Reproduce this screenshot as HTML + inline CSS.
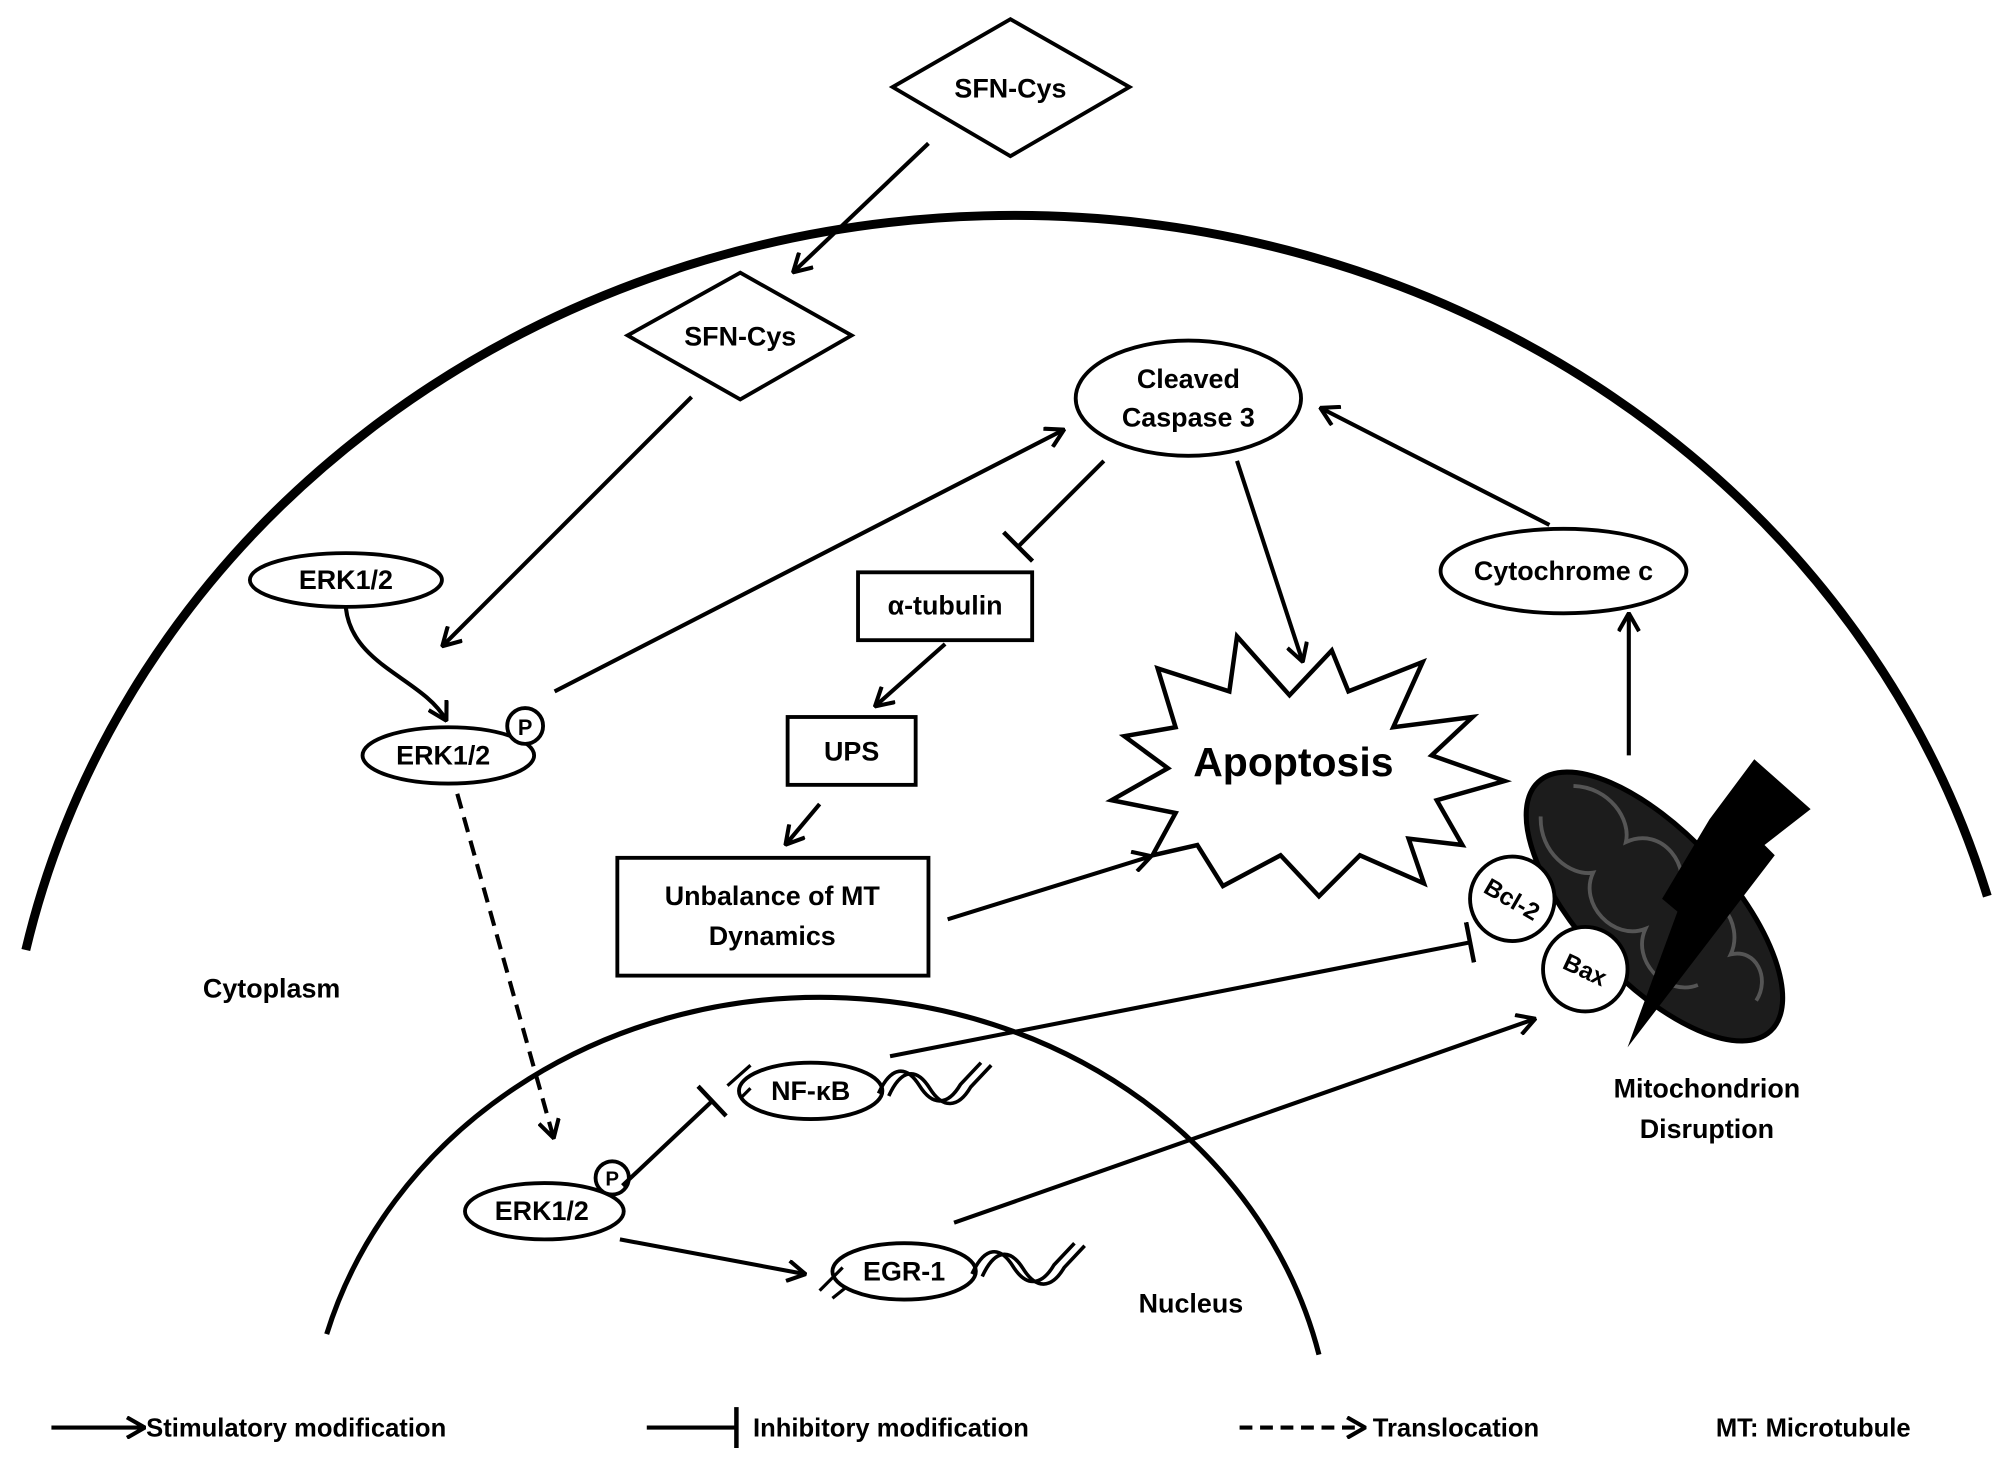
<!DOCTYPE html>
<html><head><meta charset="utf-8"><style>html,body{margin:0;padding:0;background:#fff}svg{display:block}</style></head>
<body>
<svg width="2008" height="1466" viewBox="0 0 1568 1145" xmlns="http://www.w3.org/2000/svg" font-family="Liberation Sans, Arial, sans-serif" font-weight="bold">
<defs>
<marker id="a" markerWidth="16" markerHeight="18" refX="14" refY="9" orient="auto" markerUnits="userSpaceOnUse"><path d="M1,1 L15,9 L1,17" fill="none" stroke="#000" stroke-width="3.2"/></marker>
<marker id="t" markerWidth="6" markerHeight="32" refX="3" refY="16" orient="auto" markerUnits="userSpaceOnUse"><path d="M3,0 L3,32" stroke="#000" stroke-width="3.5"/></marker>
<g id="dna" fill="none" stroke="#000" stroke-width="2.8">
<path d="M0,12 C10,-10 22,-10 32,6 C42,22 54,22 64,5 L80,-12"/>
<path d="M8,14 C18,-8 30,-8 40,8 C50,24 62,24 72,7 L88,-10"/>
</g>
</defs>
<rect width="1568" height="1145" fill="#fff"/>
<path d="M20,742 A790,730 0 0 1 1552,700" fill="none" stroke="#000" stroke-width="7"/>
<path d="M255,1042 A400,360 0 0 1 1030,1058" fill="none" stroke="#000" stroke-width="4"/>

<g stroke="#000" stroke-width="3" fill="#fff">
<polygon points="789,15 882,68 789,122 697,68"/>
<polygon points="578,213 665,262 578,312 490,262"/>
<ellipse cx="270" cy="453" rx="75" ry="21"/>
<ellipse cx="350" cy="590" rx="67" ry="22"/>
<circle cx="410" cy="567" r="14"/>
<ellipse cx="928" cy="311" rx="88" ry="45"/>
<rect x="670" y="447" width="136" height="53"/>
<rect x="615" y="560" width="100" height="53"/>
<rect x="482" y="670" width="243" height="92"/>
<ellipse cx="1221" cy="446" rx="96" ry="33"/>
<ellipse cx="425" cy="946" rx="62" ry="22"/>
<circle cx="478" cy="920" r="13"/>
<ellipse cx="633" cy="852" rx="56" ry="22"/>
<ellipse cx="706" cy="993" rx="56" ry="22"/>
</g>
<use href="#dna" x="686" y="842"/>
<use href="#dna" x="759" y="983"/>
<path d="M568,848 L586,832 M578,858 L586,850 M640,1008 L658,990 M650,1014 L660,1006" stroke="#000" stroke-width="2.5"/>

<polygon fill="#fff" stroke="#000" stroke-width="3.5" points="904,522 960,540 966,497 1007,543 1040,508 1053,540 1111,517 1088,568 1150,560 1118,590 1175,610 1122,625 1142,660 1100,655 1112,690 1062,668 1030,700 1000,668 955,692 935,660 900,668 918,635 868,625 912,600 878,575 918,568"/>

<g transform="rotate(47 1292 708)">
<ellipse cx="1292" cy="708" rx="133" ry="58" fill="#1c1c1c" stroke="#000" stroke-width="4"/>
<path d="M1180,690 C1200,670 1230,675 1240,690 C1250,660 1290,665 1300,690 C1310,660 1350,665 1360,690 C1370,672 1395,680 1400,700 M1180,725 C1200,745 1230,740 1240,725 C1250,750 1290,750 1300,725 C1310,750 1350,750 1360,725" fill="none" stroke="#555" stroke-width="3"/>
</g>
<polygon fill="#000" points="1370,593 1414,632 1378,660 1386,668 1271,818 1310,712 1298,702 1335,640"/>
<circle cx="1181" cy="702" r="33" fill="#fff" stroke="#000" stroke-width="3"/>
<circle cx="1238" cy="757" r="33" fill="#fff" stroke="#000" stroke-width="3"/>

<g stroke="#000" stroke-width="3.2" fill="none">
<line x1="725" y1="112" x2="620" y2="212" marker-end="url(#a)"/>
<line x1="540" y1="310" x2="346" y2="504" marker-end="url(#a)"/>
<path d="M270,475 C275,520 330,530 348,562" marker-end="url(#a)"/>
<line x1="433" y1="540" x2="830" y2="336" marker-end="url(#a)"/>
<line x1="862" y1="360" x2="795" y2="427" marker-end="url(#t)"/>
<line x1="738" y1="503" x2="684" y2="551" marker-end="url(#a)"/>
<line x1="640" y1="628" x2="614" y2="659" marker-end="url(#a)"/>
<line x1="740" y1="718" x2="898" y2="669" marker-end="url(#a)"/>
<line x1="966" y1="360" x2="1017" y2="516" marker-end="url(#a)"/>
<line x1="1210" y1="410" x2="1032" y2="319" marker-end="url(#a)"/>
<line x1="1272" y1="590" x2="1272" y2="480" marker-end="url(#a)"/>
<line x1="695" y1="825" x2="1148" y2="736" marker-end="url(#t)"/>
<line x1="745" y1="955" x2="1198" y2="796" marker-end="url(#a)"/>
<line x1="357" y1="620" x2="432" y2="888" stroke-dasharray="12,7" marker-end="url(#a)"/>
<line x1="486" y1="926" x2="556" y2="860" marker-end="url(#t)"/>
<line x1="484" y1="968" x2="628" y2="995" marker-end="url(#a)"/>
<line x1="40" y1="1115" x2="112" y2="1115" marker-end="url(#a)"/>
<line x1="505" y1="1115" x2="575" y2="1115" marker-end="url(#t)"/>
<line x1="968" y1="1115" x2="1065" y2="1115" stroke-dasharray="10,6" marker-end="url(#a)"/>
</g>

<g font-size="21" text-anchor="middle" fill="#000">
<text x="789" y="76">SFN-Cys</text>
<text x="578" y="270">SFN-Cys</text>
<text x="270" y="460">ERK1/2</text>
<text x="346" y="597">ERK1/2</text>
<text x="410" y="574" font-size="17">P</text>
<text x="928" y="303">Cleaved</text>
<text x="928" y="333">Caspase 3</text>
<text x="738" y="480">α-tubulin</text>
<text x="665" y="594">UPS</text>
<text x="603" y="707">Unbalance of MT</text>
<text x="603" y="738">Dynamics</text>
<text x="1221" y="453">Cytochrome c</text>
<text x="1010" y="606" font-size="32">Apoptosis</text>
<text x="1181" y="709" font-size="19" transform="rotate(30 1181 702)">Bcl-2</text>
<text x="1238" y="764" font-size="19" transform="rotate(25 1238 757)">Bax</text>
<text x="1333" y="857">Mitochondrion</text>
<text x="1333" y="889">Disruption</text>
<text x="212" y="779">Cytoplasm</text>
<text x="930" y="1025">Nucleus</text>
<text x="423" y="953">ERK1/2</text>
<text x="478" y="926" font-size="16">P</text>
<text x="633" y="859">NF-κB</text>
<text x="706" y="1000">EGR-1</text>
</g>
<g font-size="20" fill="#000">
<text x="114" y="1122">Stimulatory modification</text>
<text x="588" y="1122">Inhibitory modification</text>
<text x="1072" y="1122">Translocation</text>
<text x="1340" y="1122">MT: Microtubule</text>
</g>
</svg>
</body></html>
